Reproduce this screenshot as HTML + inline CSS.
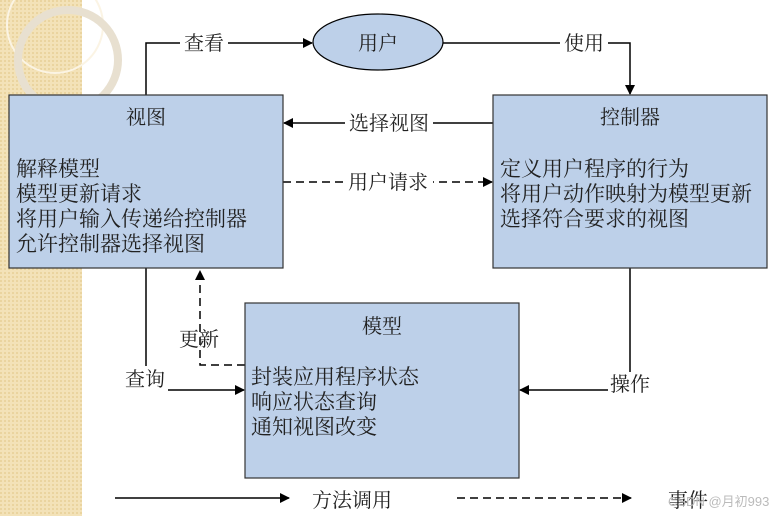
<!DOCTYPE html>
<html><head><meta charset="utf-8"><style>
html,body{margin:0;padding:0;background:#fff;}
svg text{font-family:"Liberation Serif","Noto Serif CJK SC",serif;fill:#222;}
</style></head><body>
<svg width="780" height="516" viewBox="0 0 780 516" xmlns="http://www.w3.org/2000/svg">
<defs>
<pattern id="dots" width="4" height="4" patternUnits="userSpaceOnUse">
<rect width="4" height="4" fill="#f3e2b8"/><rect width="2" height="2" fill="#ead49f"/>
</pattern>
<marker id="ar" markerWidth="10" markerHeight="10" refX="9" refY="5" orient="auto" markerUnits="userSpaceOnUse">
<path d="M0,0 L10,5 L0,10 z" fill="#000"/></marker>
</defs>
<rect x="0" y="0" width="82" height="516" fill="url(#dots)"/>
<circle cx="55" cy="25" r="48" fill="none" stroke="#fbf4e4" stroke-width="2"/>
<circle cx="68" cy="60" r="50" fill="none" stroke="#e8e0d0" stroke-width="8"/>

<g stroke="#000" stroke-width="1.5" fill="none">
<polyline points="146,95 146,43 312,43" marker-end="url(#ar)"/>
<polyline points="443,43 630,43 630,94" marker-end="url(#ar)"/>
<line x1="493" y1="123" x2="284" y2="123" marker-end="url(#ar)"/>
<line x1="283" y1="182" x2="492" y2="182" stroke-dasharray="8,5" marker-end="url(#ar)"/>
<line x1="146" y1="268" x2="146" y2="366"/>
<line x1="168" y1="390" x2="244" y2="390" marker-end="url(#ar)"/>
<polyline points="245,365 200,365 200,271" stroke-dasharray="8,5" marker-end="url(#ar)"/>
<line x1="630" y1="268" x2="630" y2="372"/>
<line x1="608" y1="390" x2="520" y2="390" marker-end="url(#ar)"/>
<line x1="115" y1="498" x2="289" y2="498" marker-end="url(#ar)"/>
<line x1="457" y1="498" x2="631" y2="498" stroke-dasharray="8,5" marker-end="url(#ar)"/>
</g>

<ellipse cx="378" cy="42" rx="65" ry="28" fill="#bdd0e9" stroke="#000" stroke-width="1.2"/>
<text x="378" y="50" font-size="20" text-anchor="middle">用户</text>

<rect x="9" y="95" width="274" height="173" fill="#bdd0e9" stroke="#333" stroke-width="1.2"/>
<rect x="493" y="95" width="274" height="173" fill="#bdd0e9" stroke="#333" stroke-width="1.2"/>
<rect x="245" y="303" width="274" height="175" fill="#bdd0e9" stroke="#333" stroke-width="1.2"/>

<g font-size="20">
<rect x="180" y="30" width="48" height="26" fill="#fff"/>
<text x="204" y="50" text-anchor="middle">查看</text>
<rect x="560" y="30" width="48" height="26" fill="#fff"/>
<text x="584" y="50" text-anchor="middle">使用</text>
<rect x="345" y="110" width="88" height="26" fill="#fff"/>
<text x="389" y="130" text-anchor="middle">选择视图</text>
<rect x="343" y="169" width="90" height="26" fill="#fff"/>
<text x="388" y="189" text-anchor="middle">用户请求</text>
<text x="199" y="346" text-anchor="middle">更新</text>
<text x="145" y="386" text-anchor="middle">查询</text>
<text x="630" y="391" text-anchor="middle">操作</text>
<text x="352" y="507" text-anchor="middle">方法调用</text>
<text x="688" y="507" text-anchor="middle">事件</text>
</g>
<text x="668" y="506" font-size="13" style="fill:#bbb;font-family:'Liberation Sans','Noto Sans CJK SC',sans-serif">CSDN @月初993</text>

<g font-size="21">
<text x="146" y="124" text-anchor="middle" font-size="20">视图</text>
<text x="16" y="176">解释模型</text>
<text x="16" y="201">模型更新请求</text>
<text x="16" y="226">将用户输入传递给控制器</text>
<text x="16" y="251">允许控制器选择视图</text>
<text x="630" y="124" text-anchor="middle" font-size="20">控制器</text>
<text x="500" y="176">定义用户程序的行为</text>
<text x="500" y="201">将用户动作映射为模型更新</text>
<text x="500" y="226">选择符合要求的视图</text>
<text x="382" y="333" text-anchor="middle" font-size="20">模型</text>
<text x="251" y="384">封装应用程序状态</text>
<text x="251" y="409">响应状态查询</text>
<text x="251" y="434">通知视图改变</text>
</g>
</svg>
</body></html>
